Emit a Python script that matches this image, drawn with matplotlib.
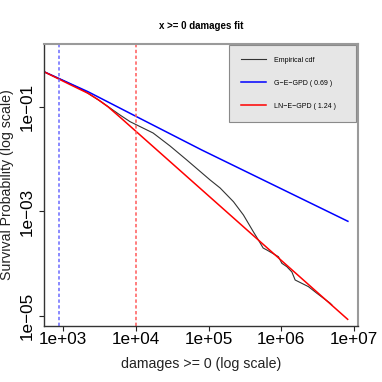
import numpy as np
import matplotlib
matplotlib.use('Agg')
import matplotlib.pyplot as plt

plt.rcParams['font.family'] = ['Liberation Sans', 'DejaVu Sans']

# values, stored as log10(damages) / log10(survival)
emp_lx = [2.739, 2.959, 3.275, 3.509, 3.784, 3.922, 4.238, 4.472, 4.702, 5.022,
          5.160, 5.343, 5.480, 5.618, 5.686, 5.751, 5.802, 5.961, 6.008, 6.077,
          6.146, 6.191, 6.374, 6.490, 6.673, 6.696]
emp_ly = [-0.317, -0.457, -0.668, -0.879, -1.148, -1.276, -1.493, -1.743, -2.012, -2.395,
          -2.549, -2.812, -3.067, -3.393, -3.547, -3.701, -3.739, -3.868, -3.994, -4.060,
          -4.161, -4.315, -4.443, -4.570, -4.762, -4.795]

gegpd_lx = [2.739, 3.344, 4.055, 4.908, 6.916]
gegpd_ly = [-0.317, -0.701, -1.211, -1.820, -3.188]

lnegpd_lx = [2.739, 3.100, 3.344, 3.480, 3.619, 3.800, 4.000, 6.913]
lnegpd_ly = [-0.317, -0.566, -0.731, -0.850, -0.990, -1.210, -1.458, -5.070]

thresh_ge = 880
thresh_ln = 1e4

xticks = [1e3, 1e4, 1e5, 1e6, 1e7]
xticklabels = ['1e+03', '1e+04', '1e+05', '1e+06', '1e+07']
yticks = [1e-1, 1e-3, 1e-5]
yticklabels = ['1e\u221201', '1e\u221203', '1e\u221205']

labels = ['Empirical cdf', 'G\u2212E\u2212GPD ( 0.69 )', 'LN\u2212E\u2212GPD ( 1.24 )']

fig = plt.figure(figsize=(3.82, 3.82), dpi=100)
ax = fig.add_axes([0.1152, 0.1466, 0.822, 0.7382])

ax.plot(10 ** np.array(emp_lx), 10 ** np.array(emp_ly), color='#333333', lw=0.8, label=labels[0])
ax.plot(10 ** np.array(gegpd_lx), 10 ** np.array(gegpd_ly), color='#0000ff', lw=1.1, label=labels[1])
ax.plot(10 ** np.array(lnegpd_lx), 10 ** np.array(lnegpd_ly), color='#ff0000', lw=1.1, label=labels[2])

ax.axvline(thresh_ge, color='#6a6aff', lw=1.1, dashes=(2.2, 1.6))
ax.axvline(thresh_ln, color='#ff5a5a', lw=1.1, dashes=(2.2, 1.6))

ax.set_xscale('log')
ax.set_yscale('log')
ax.set_xlim(10 ** 2.739, 10 ** 7.055)
ax.set_ylim(10 ** -5.198, 10 ** 0.215)
ax.minorticks_off()
ax.set_xticks(xticks)
ax.set_xticklabels(xticklabels)
ax.set_yticks(yticks)
ax.set_yticklabels(yticklabels, rotation=90, va='center')
ax.tick_params(axis='both', labelsize=12.3, length=3.5, width=0.8, direction='out', color='#222222')
ax.tick_params(axis='x', pad=1)
ax.tick_params(axis='y', pad=3)

for s in ['left', 'bottom']:
    ax.spines[s].set_color('#333333')
    ax.spines[s].set_linewidth(1.0)
for s in ['top', 'right']:
    ax.spines[s].set_color('#9a9a9a')
    ax.spines[s].set_linewidth(1.5)

ax.set_title('x >= 0 damages fit', fontsize=7, fontweight='bold', pad=11)
ax.set_xlabel('damages >= 0 (log scale)', fontsize=10.2, color='#222222')
ax.xaxis.set_label_coords(0.5, -0.109)
ax.set_ylabel('Survival Probability (log scale)', fontsize=10.2, color='#222222')
ax.yaxis.set_label_coords(-0.0955, 0.5)

leg = ax.legend(loc='upper left', bbox_to_anchor=(0.59, 0.9965, 0.404, 0.0), mode='expand',
                fontsize=5, frameon=True, fancybox=False, framealpha=1,
                facecolor='#e6e6e6', edgecolor='#8a8a8a', handlelength=3.6,
                handletextpad=1.1, labelspacing=2.3, borderpad=1.7, borderaxespad=0)
leg.get_frame().set_linewidth(0.8)

fig.savefig('out.png', dpi=100)
